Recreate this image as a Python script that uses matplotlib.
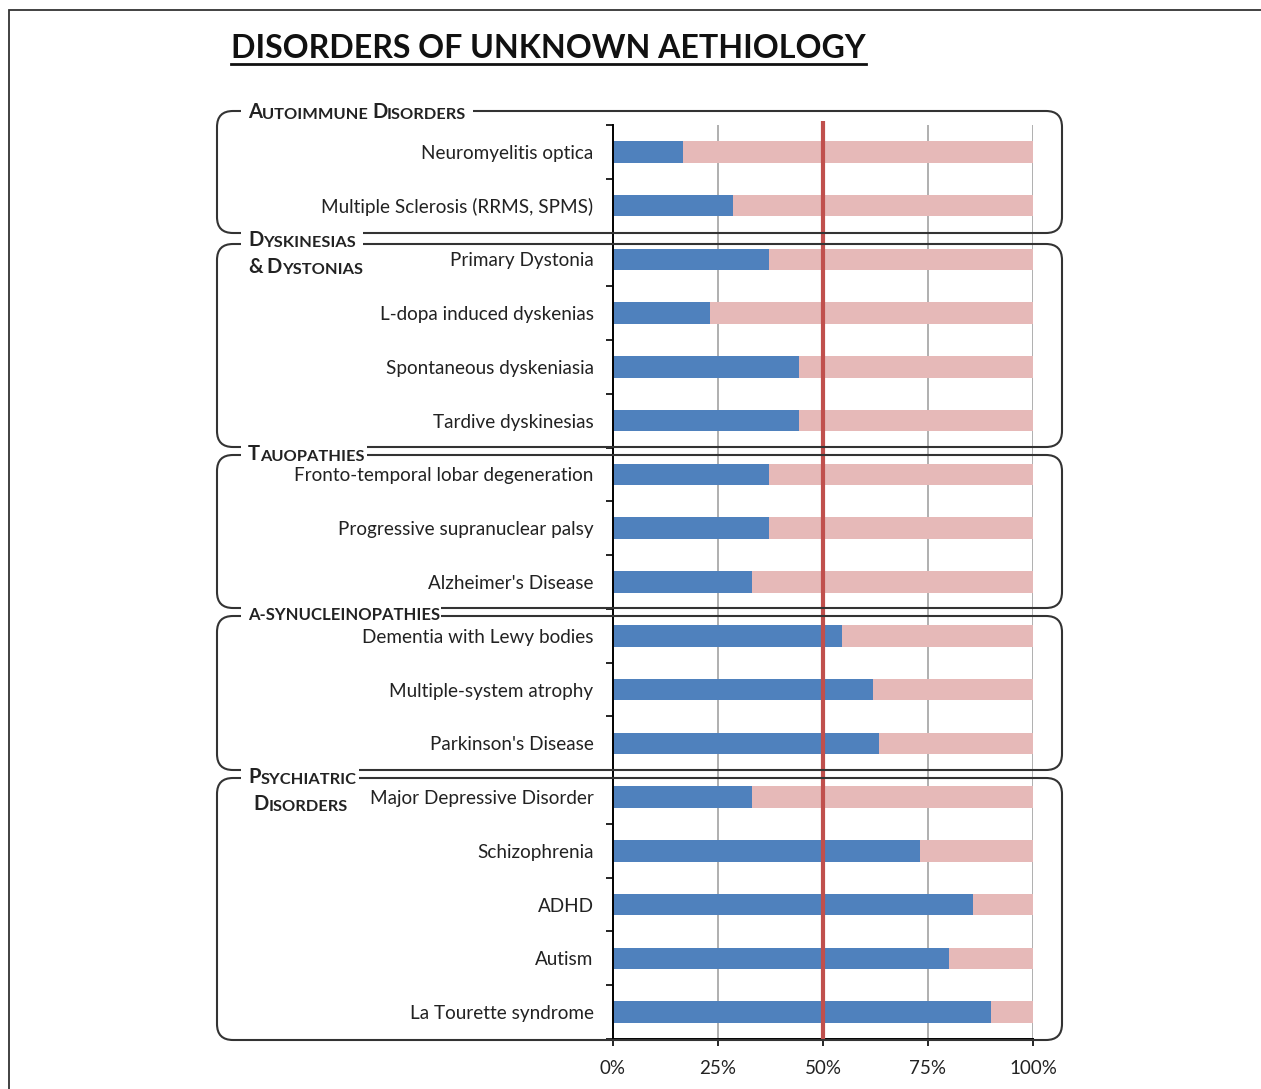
import matplotlib
matplotlib.use('Agg')
import matplotlib.pyplot as plt
from matplotlib.patches import FancyBboxPatch, Rectangle
from matplotlib.transforms import IdentityTransform, Bbox
from matplotlib.lines import Line2D
from matplotlib.text import Annotation

plt.rcParams['font.family'] = ['Lato', 'DejaVu Sans']

# ---- data (share of patients, blue = first part, pink = remainder up to 100%) ----
categories = [
    "Neuromyelitis optica",
    "Multiple Sclerosis (RRMS, SPMS)",
    "Primary Dystonia",
    "L-dopa induced dyskenias",
    "Spontaneous dyskeniasia",
    "Tardive dyskinesias",
    "Fronto-temporal lobar degeneration",
    "Progressive supranuclear palsy",
    "Alzheimer's Disease",
    "Dementia with Lewy bodies",
    "Multiple-system atrophy",
    "Parkinson's Disease",
    "Major Depressive Disorder",
    "Schizophrenia",
    "ADHD",
    "Autism",
    "La Tourette syndrome",
]
blue_values = [0.167, 0.286, 0.372, 0.231, 0.444, 0.444, 0.372, 0.372, 0.332,
               0.546, 0.620, 0.634, 0.332, 0.730, 0.857, 0.800, 0.900]
pink_values = [1 - v for v in blue_values]
x_ticks = [0, 0.25, 0.5, 0.75, 1.0]
x_tick_labels = ["0%", "25%", "50%", "75%", "100%"]

# group headers (words per line)
group_labels = [
    [["AUTOIMMUNE", "DISORDERS"]],
    [["DYSKINESIAS"], ["&", "DYSTONIAS"]],
    [["TAUOPATHIES"]],
    [["A-SYNUCLEINOPATHIES"]],
    [["PSYCHIATRIC"], ["DISORDERS"]],
]

W, H = 1261, 1089
BLUE = '#4F81BD'
PINK = '#E6B9B8'
RED = '#C0504D'
TXT = '#222222'

fig = plt.figure(figsize=(W / 100, H / 100), dpi=100)
fig.patch.set_facecolor('white')
ident = IdentityTransform()


def py(y):
    # image pixel row -> display y
    return H - y


# outer frame
fig.add_artist(Rectangle((9, -20), W + 40, py(10) + 20, transform=ident,
                         fill=False, edgecolor='#333333', linewidth=1.3))

# axes placed in pixel space
ax_l, ax_r, ax_t, ax_b = 613, 1033, 125, 1039
ax = fig.add_axes([ax_l / W, py(ax_b) / H, (ax_r - ax_l) / W, (ax_b - ax_t) / H])

rows = list(range(len(categories)))
ax.barh(rows, blue_values, height=0.4, color=BLUE, zorder=2)
ax.barh(rows, pink_values, left=blue_values, height=0.4, color=PINK, zorder=2)

ax.set_xlim(0, 1)
ax.set_ylim(len(categories) - 0.5, -0.5)
for gx in x_ticks[1:]:
    ax.axvline(gx, color='#9a9a9a', linewidth=1.1, zorder=1)
ax.plot([0.5, 0.5], [len(categories) - 0.5, -0.58], color=RED, linewidth=3,
        zorder=4, clip_on=False, solid_capstyle='butt')

for side in ['top', 'right']:
    ax.spines[side].set_visible(False)
ax.spines['left'].set_linewidth(1.4)
ax.spines['bottom'].set_linewidth(1.4)

ax.set_yticks(rows)
ax.set_yticklabels(categories, fontsize=13.6, color=TXT)
ax.tick_params(axis='y', which='major', length=0, pad=14)
ax.set_yticks([r - 0.5 for r in range(len(categories) + 1)], minor=True)
ax.tick_params(axis='y', which='minor', length=5, width=1.2, direction='out')

ax.set_xticks(x_ticks)
ax.set_xticklabels(x_tick_labels, fontsize=13.5, color=TXT)
ax.tick_params(axis='x', length=5, width=1.2, direction='out', pad=10)

# title with underline
title = fig.text(231, py(48), "DISORDERS OF UNKNOWN AETHIOLOGY", transform=ident,
                 fontsize=23.1, fontweight='bold', color='#111111', va='center')

# group boxes
box_tops = [111, 244, 455, 616, 778]
box_bottoms = [233, 447, 608, 770, 1040]
box_left, box_right = 217, 1062
label_lines_y = [[111], [239, 266], [453], [613], [776, 803]]
label_x = [[248], [248, 248], [248], [248], [248, 253]]
label_gap_right = [[7], [7, 4], [2], [1], [2, 4]]

header_lines = []
for lines, top, bot, ys, xs, gaps in zip(group_labels, box_tops, box_bottoms,
                                         label_lines_y, label_x, label_gap_right):
    fig.add_artist(FancyBboxPatch((box_left, py(bot)), box_right - box_left, bot - top,
                                  boxstyle='round,pad=0,rounding_size=16',
                                  transform=ident, fill=False,
                                  edgecolor='#333333', linewidth=1.5, zorder=5))
    for words, ly, lx, gap in zip(lines, ys, xs, gaps):
        prev = None
        pieces_art = []
        for wi, word in enumerate(words):
            word_txt = word if wi == len(words) - 1 else word + " "
            if word.startswith("A-"):
                pieces = [(word_txt, 12)]
            else:
                pieces = [(word_txt[0], 14.5), (word_txt[1:], 11.8)]
            for piece, size in pieces:
                if not piece:
                    continue
                kw = dict(fontsize=size, fontweight='bold', color=TXT, zorder=7)
                if prev is None:
                    prev = fig.text(lx, py(ly + 7), piece, transform=ident,
                                    va='baseline', ha='left', **kw)
                else:
                    prev = fig.add_artist(Annotation(
                        piece, xy=(1, 0), xycoords=prev, va='bottom', ha='left',
                        annotation_clip=False, **kw))
                pieces_art.append(prev)
        header_lines.append((pieces_art, gap))

fig.canvas.draw()
bb = title.get_window_extent()
fig.add_artist(Line2D([bb.x0, bb.x1], [py(64), py(64)], transform=ident,
                      color='#111111', linewidth=2))

# white patches behind header text so it breaks the box outline
for pieces_art, gap in header_lines:
    ub = Bbox.union([p.get_window_extent() for p in pieces_art])
    fig.add_artist(Rectangle((ub.x0 - 7, ub.y0 - 1), ub.width + 7 + gap, ub.height + 2,
                             transform=ident, facecolor='white', edgecolor='none',
                             zorder=6))

plt.savefig('out.png', dpi=100, facecolor='white')
plt.close()
